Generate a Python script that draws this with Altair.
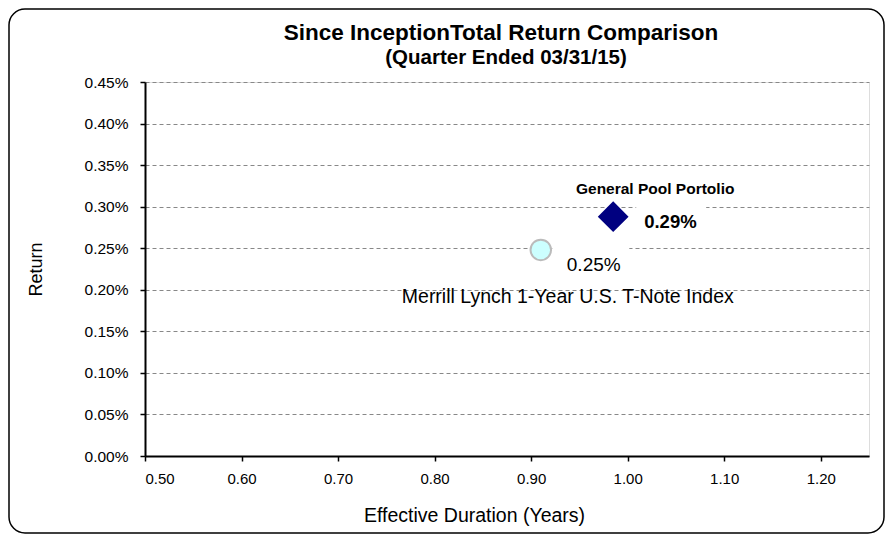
import altair as alt
import pandas as pd

# ---- data ----
names = ["Merrill Lynch 1-Year U.S. T-Note Index", "General Pool Portolio"]
durations = [0.91, 0.985]
returns = [0.00248, 0.00288]
value_labels = ["0.25%", "0.29%"]

x_ticks = [0.5, 0.6, 0.7, 0.8, 0.9, 1.0, 1.1, 1.2]
y_ticks = [0.0, 0.0005, 0.001, 0.0015, 0.002, 0.0025, 0.003, 0.0035, 0.004, 0.0045]

title_line1 = "Since InceptionTotal Return Comparison"
title_line2 = "(Quarter Ended 03/31/15)"

df = pd.DataFrame({"name": names, "dur": durations, "ret": returns, "lab": value_labels})

FONT = "Liberation Sans"

x_enc = alt.X("dur:Q", scale=alt.Scale(domain=[0.5, 1.25], nice=False, zero=False),
              axis=alt.Axis(title="Effective Duration (Years)", values=x_ticks, format=".2f",
                            grid=False, domainColor="black", domainWidth=2, tickColor="black",
                            tickWidth=1.5, tickSize=5, labelPadding=10,
                            titleX=329, titleY=59, titleBaseline="middle", titleAlign="center",
                            labelFontSize=15, titleFontSize=19.5, titleFontWeight="normal",
                            labelColor="black", titleColor="black", labelFont=FONT, titleFont=FONT))
y_enc = alt.Y("ret:Q", scale=alt.Scale(domain=[0, 0.0045], nice=False),
              axis=alt.Axis(title="Return", values=y_ticks, format=".2%",
                            grid=True, gridDash=[4, 3], gridColor="#888888", gridWidth=1,
                            domainColor="black", domainWidth=2, tickColor="black",
                            tickWidth=1.5, tickSize=5, labelPadding=12,
                            titleX=-109, titleY=187, titleBaseline="middle", titleAlign="center",
                            titleAngle=270,
                            labelFontSize=15.5, titleFontSize=18, titleFontWeight="normal",
                            labelColor="black", titleColor="black", labelFont=FONT, titleFont=FONT))

base = alt.Chart(df)
mlf = alt.datum.name == names[0]
gpf = alt.datum.name == names[1]

# white label boxes that interrupt the gridlines, as in the reference
box_gp = base.transform_filter(gpf).mark_rect(
    fill="white", width=70, height=28, xOffset=58, yOffset=4
).encode(x=x_enc, y=y_enc)
box_ml = base.transform_filter(mlf).mark_rect(
    fill="white", width=77, height=32, xOffset=50, yOffset=13
).encode(x="dur:Q", y="ret:Q")

circle = base.transform_filter(mlf).mark_point(
    shape="circle", filled=True, fill="#CCFFFF", stroke="#BBBBBB", strokeWidth=2, size=420, opacity=1
).encode(x="dur:Q", y="ret:Q")

diamond = base.transform_filter(gpf).mark_point(
    shape="diamond", filled=True, fill="#000080", stroke="#000080", size=780, opacity=1
).encode(x="dur:Q", y="ret:Q")

lab029 = base.transform_filter(gpf).mark_text(
    align="left", baseline="middle", dx=31, dy=5, fontSize=18.5, fontWeight="bold", font=FONT, color="black"
).encode(x="dur:Q", y="ret:Q", text="lab:N")

name_gp = base.transform_filter(gpf).mark_text(
    align="center", baseline="middle", dx=42, dy=-28, fontSize=15.5, fontWeight="bold", font=FONT, color="black"
).encode(x="dur:Q", y="ret:Q", text="name:N")

lab025 = base.transform_filter(mlf).mark_text(
    align="left", baseline="middle", dx=26, dy=15, fontSize=19, font=FONT, color="black"
).encode(x="dur:Q", y="ret:Q", text="lab:N")

name_ml = base.transform_filter(mlf).mark_text(
    align="center", baseline="middle", dx=27, dy=47, fontSize=19.5, font=FONT, color="black"
).encode(x="dur:Q", y="ret:Q", text="name:N")

t1 = alt.Chart(alt.Data(values=[{"t": title_line1}])).mark_text(
    align="center", baseline="middle", fontSize=22.5, fontWeight="bold", font=FONT, color="black"
).encode(x=alt.value(356), y=alt.value(-49), text="t:N")
t2 = alt.Chart(alt.Data(values=[{"t": title_line2}])).mark_text(
    align="center", baseline="middle", fontSize=20.5, fontWeight="bold", font=FONT, color="black"
).encode(x=alt.value(361), y=alt.value(-24), text="t:N")

frame = alt.Chart(alt.Data(values=[{}])).mark_rect(
    fill=None, stroke="black", strokeWidth=1.5, cornerRadius=16
).encode(x=alt.value(-136), x2=alt.value(739), y=alt.value(-73), y2=alt.value(451))

chart = alt.layer(box_gp, box_ml, circle, diamond, lab029, name_gp, lab025, name_ml, t1, t2, frame).properties(
    width=724, height=374,
    autosize=alt.AutoSizeParams(type="none"),
    padding={"left": 137, "top": 74, "right": 16, "bottom": 80},
).configure_view(stroke=None).configure(background="white")

chart.save("out.html", embed_options={"renderer": "svg", "actions": False})
